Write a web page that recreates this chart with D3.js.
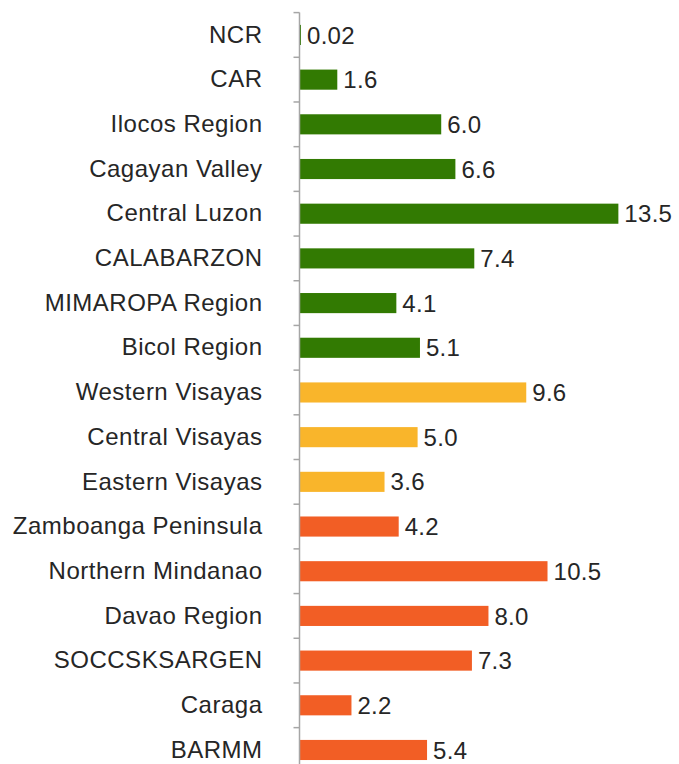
<!DOCTYPE html>
<html lang="en">
<head>
<meta charset="utf-8"/>
<title>Regional bar chart</title>
<script src="https://d3js.org/d3.v7.min.js"></script>
<style>
  body { margin: 0; background: #fff; }
  text { font-family: "Liberation Sans", Arial, sans-serif; fill: #262626; }
</style>
</head>
<body>
<script>
// data
var regions = ["NCR", "CAR", "Ilocos Region", "Cagayan Valley", "Central Luzon", "CALABARZON",
    "MIMAROPA Region", "Bicol Region", "Western Visayas", "Central Visayas", "Eastern Visayas",
    "Zamboanga Peninsula", "Northern Mindanao", "Davao Region", "SOCCSKSARGEN", "Caraga", "BARMM"];
var values = [0.02, 1.6, 6.0, 6.6, 13.5, 7.4, 4.1, 5.1, 9.6, 5.0, 3.6, 4.2, 10.5, 8.0, 7.3, 2.2, 5.4];
var labels = ["0.02", "1.6", "6.0", "6.6", "13.5", "7.4", "4.1", "5.1", "9.6", "5.0", "3.6", "4.2", "10.5", "8.0", "7.3", "2.2", "5.4"];
var groups = ["Luzon", "Luzon", "Luzon", "Luzon", "Luzon", "Luzon", "Luzon", "Luzon",
    "Visayas", "Visayas", "Visayas", "Mindanao", "Mindanao", "Mindanao", "Mindanao", "Mindanao", "Mindanao"];

var w = 679, h = 764;
var axisX = 299.5;

var color = d3.scaleOrdinal()
    .domain(["Luzon", "Visayas", "Mindanao"])
    .range(["#327a02", "#f9b52b", "#f25e25"]);

var svg = d3.select("body").append("svg")
    .attr("width", w)
    .attr("height", h);

var y = d3.scaleBand()
    .domain(regions)
    .range([12.6, 12.6 + 17 * 44.69])
    .paddingInner(0.55)
    .paddingOuter(0.275);

var x = d3.scaleLinear()
    .domain([0, 14])
    .range([axisX, axisX + 14 * 23.62]);

// category labels
var yAxis = svg.append("g")
    .attr("transform", "translate(" + axisX + ",0)")
    .call(d3.axisLeft(y).tickSize(0).tickPadding(37));
yAxis.select(".domain").remove();
yAxis.selectAll("text")
    .style("font-family", "'Liberation Sans', Arial, sans-serif")
    .style("font-size", "24px")
    .style("letter-spacing", "0.5px")
    .attr("fill", "#262626");

// bars
svg.selectAll("rect.bar")
    .data(values)
    .enter()
    .append("rect")
    .attr("class", "bar")
    .attr("x", x(0))
    .attr("y", function (d, i) { return y(regions[i]); })
    .attr("width", function (d) { return Math.max(1.5, x(d) - x(0)); })
    .attr("height", y.bandwidth())
    .attr("fill", function (d, i) { return color(groups[i]); });

// value labels
svg.selectAll("text.val")
    .data(values)
    .enter()
    .append("text")
    .attr("class", "val")
    .attr("x", function (d) { return Math.max(x(0) + 1.5, x(d)) + 6; })
    .attr("y", function (d, i) { return y(regions[i]) + y.bandwidth() / 2; })
    .attr("dy", "0.36em")
    .style("font-size", "24px")
    .style("letter-spacing", "0.3px")
    .text(function (d, i) { return labels[i]; });

// axis line with ticks between categories
var step = y.step();
var top0 = y.range()[0];
svg.append("line")
    .attr("x1", axisX).attr("x2", axisX)
    .attr("y1", top0).attr("y2", y.range()[1])
    .attr("stroke", "#a6a6a6")
    .attr("stroke-width", 1.5);
svg.selectAll("line.tick")
    .data(d3.range(regions.length + 1))
    .enter()
    .append("line")
    .attr("class", "tick")
    .attr("x1", axisX - 6).attr("x2", axisX)
    .attr("y1", function (i) { return top0 + i * step; })
    .attr("y2", function (i) { return top0 + i * step; })
    .attr("stroke", "#a6a6a6")
    .attr("stroke-width", 1.5);
</script>
</body>
</html>
